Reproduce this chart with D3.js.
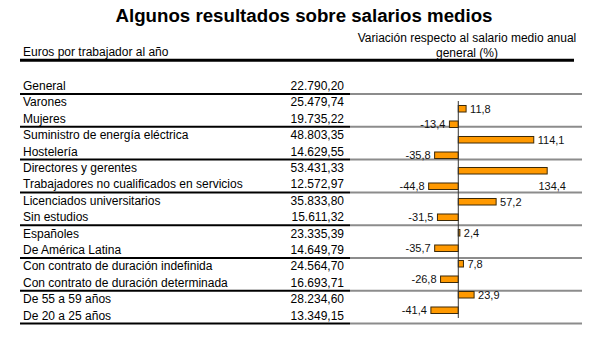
<!DOCTYPE html>
<html>
<head>
<meta charset="utf-8">
<script src="https://cdn.jsdelivr.net/npm/d3@7"></script>
<style>
  html, body { margin: 0; padding: 0; background: #fff; }
  svg { display: block; font-family: "Liberation Sans", Arial, sans-serif; }
</style>
</head>
<body>
<svg id="chart" width="610" height="339"></svg>
<script>
// Row labels of the table
const categories = [
  "General",
  "Varones",
  "Mujeres",
  "Suministro de energía eléctrica",
  "Hostelería",
  "Directores y gerentes",
  "Trabajadores no cualificados en servicios",
  "Licenciados universitarios",
  "Sin estudios",
  "Españoles",
  "De América Latina",
  "Con contrato de duración indefinida",
  "Con contrato de duración determinada",
  "De 55 a 59 años",
  "De 20 a 25 años"
];

// Average annual salary, euros per worker
const salaries = [
  22790.20, 25479.74, 19735.22, 48803.35, 14629.55, 53431.33, 12572.97,
  35833.80, 15611.32, 23335.39, 14649.79, 24564.70, 16693.71, 28234.60, 13349.15
];

// Variation with respect to the general average salary (%)
const variation = [
  null, 11.8, -13.4, 114.1, -35.8, 134.4, -44.8,
  57.2, -31.5, 2.4, -35.7, 7.8, -26.8, 23.9, -41.4
];

// Horizontal extent of the variation scale
const variationDomain = [-60, 150];

const titleText = "Algunos resultados sobre salarios medios";
const leftHeader = "Euros por trabajador al año";
const rightHeader = ["Variación respecto al salario medio anual", "general (%)"];

// Spanish number formatting
const es = d3.formatLocale({ decimal: ",", thousands: ".", grouping: [3], currency: ["", " €"], minus: "-" });
const fmtEuro = es.format(",.2f");
const fmtPct = es.format(".1f");

const svg = d3.select("#chart");

// Title
svg.append("text")
  .attr("x", 304).attr("y", 22)
  .attr("text-anchor", "middle")
  .attr("font-size", "18.7px").attr("font-weight", "bold")
  .attr("fill", "#000")
  .text(titleText);

// Column headers
svg.append("text")
  .attr("x", 23).attr("y", 56)
  .attr("font-size", "12px").attr("fill", "#000")
  .text(leftHeader);

svg.append("text")
  .attr("x", 467).attr("y", 41.5)
  .attr("text-anchor", "middle")
  .attr("font-size", "12px").attr("fill", "#000")
  .selectAll("tspan").data(rightHeader).join("tspan")
  .attr("x", 467).attr("dy", (d, i) => i === 0 ? 0 : 15.5)
  .text(d => d);

// Heavy rule under headers
svg.append("line")
  .attr("x1", 20).attr("x2", 574).attr("y1", 60.3).attr("y2", 60.3)
  .attr("stroke", "#000").attr("stroke-width", 3);

// Table rows
const rowY = d3.scaleBand()
  .domain(categories)
  .range([77.6, 77.6 + 16.4 * categories.length])
  .padding(0);

const rows = svg.append("g").attr("font-size", "12px").attr("fill", "#000");

rows.selectAll("text.label").data(categories).join("text")
  .attr("class", "label")
  .attr("x", 23)
  .attr("y", d => rowY(d) + 12.3)
  .text(d => d);

rows.selectAll("text.value").data(categories).join("text")
  .attr("class", "value")
  .attr("x", 344)
  .attr("y", d => rowY(d) + 12.3)
  .attr("text-anchor", "end")
  .text((d, i) => fmtEuro(salaries[i]));

// Separator lines after "General" and after each pair of rows
const groupEnds = categories.filter((d, i) => i % 2 === 0);
const seps = svg.append("g");
seps.selectAll("line.dark").data(groupEnds).join("line")
  .attr("class", "dark")
  .attr("x1", 20).attr("x2", 350)
  .attr("y1", d => rowY(d) + rowY.bandwidth())
  .attr("y2", d => rowY(d) + rowY.bandwidth())
  .attr("stroke", "#000").attr("stroke-width", 2);
seps.selectAll("line.light").data(groupEnds).join("line")
  .attr("class", "light")
  .attr("x1", 350).attr("x2", 582)
  .attr("y1", d => rowY(d) + rowY.bandwidth())
  .attr("y2", d => rowY(d) + rowY.bandwidth())
  .attr("stroke", "#8c8c8c").attr("stroke-width", 2);

// Bar chart of variations
const barData = categories
  .map((c, i) => ({ c, v: variation[i] }))
  .filter(d => d.v != null);

const barY = d3.scaleBand()
  .domain(barData.map(d => d.c))
  .range([101, 318])
  .paddingInner(0.58)
  .paddingOuter(0.29);

const x = d3.scaleLinear().domain(variationDomain).range([418.6, 557.5]);

const bars = svg.append("g");
bars.selectAll("rect").data(barData).join("rect")
  .attr("x", d => x(Math.min(0, d.v)))
  .attr("y", d => barY(d.c))
  .attr("width", d => Math.abs(x(d.v) - x(0)))
  .attr("height", barY.bandwidth())
  .attr("fill", "#ff9900")
  .attr("stroke", "#3d2a08")
  .attr("stroke-width", 1);

// Zero axis
svg.append("line")
  .attr("x1", x(0)).attr("x2", x(0))
  .attr("y1", 101).attr("y2", 318)
  .attr("stroke", "#333").attr("stroke-width", 1);

// Value labels
const labelLimit = 575;
const labels = svg.append("g").attr("font-size", "11px").attr("fill", "#111");
labels.selectAll("text").data(barData).join("text")
  .each(function (d) {
    const t = d3.select(this).text(fmtPct(d.v));
    const cy = barY(d.c) + barY.bandwidth() / 2;
    if (d.v >= 0) {
      const w = this.getComputedTextLength();
      if (x(d.v) + 4 + w > labelLimit) {
        // no room to the right: place the label under the bar end
        t.attr("x", x(d.v) + 5).attr("y", cy + barY.step()).attr("dy", "0.35em")
          .attr("text-anchor", "middle");
      } else {
        t.attr("x", x(d.v) + 4).attr("y", cy).attr("dy", "0.35em")
          .attr("text-anchor", "start");
      }
    } else {
      t.attr("x", x(d.v) - 4).attr("y", cy).attr("dy", "0.35em")
        .attr("text-anchor", "end");
    }
  });
</script>
</body>
</html>
